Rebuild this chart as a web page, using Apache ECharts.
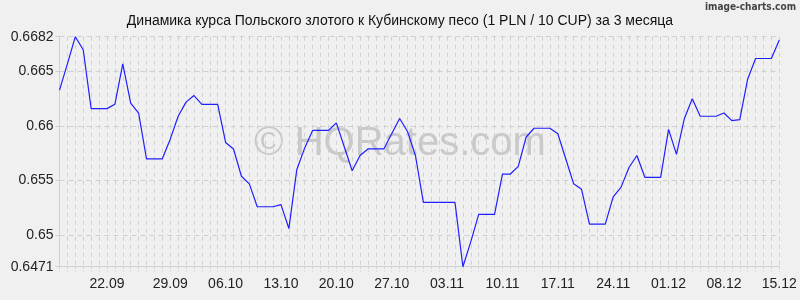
<!DOCTYPE html>
<html>
<head>
<meta charset="utf-8">
<script src="https://cdn.jsdelivr.net/npm/echarts@6/dist/echarts.min.js"></script>
<style>
html,body{margin:0;padding:0;background:#f0f0f0;}
#c{width:800px;height:300px;}
</style>
</head>
<body>
<div id="c"></div>
<script>
var titleText = 'Динамика курса Польского злотого к Кубинскому песо (1 PLN / 10 CUP) за 3 месяца';

var dates = [
 '15.09','16.09','17.09','18.09','19.09','20.09','21.09','22.09','23.09','24.09','25.09','26.09','27.09','28.09','29.09','30.09',
 '01.10','02.10','03.10','04.10','05.10','06.10','07.10','08.10','09.10','10.10','11.10','12.10','13.10','14.10','15.10','16.10',
 '17.10','18.10','19.10','20.10','21.10','22.10','23.10','24.10','25.10','26.10','27.10','28.10','29.10','30.10','31.10',
 '01.11','02.11','03.11','04.11','05.11','06.11','07.11','08.11','09.11','10.11','11.11','12.11','13.11','14.11','15.11','16.11',
 '17.11','18.11','19.11','20.11','21.11','22.11','23.11','24.11','25.11','26.11','27.11','28.11','29.11','30.11',
 '01.12','02.12','03.12','04.12','05.12','06.12','07.12','08.12','09.12','10.12','11.12','12.12','13.12','14.12','15.12'
];

// x tick labels as shown on the reference, one entry per category ('' = no label)
var xTickLabels = [
 '','','','','','','22.09','','','','','','','','29.09','',
 '','','','','','06.10','','','','','','','13.10','','','',
 '','','','20.10','','','','','','','27.10','','','','',
 '','','03.11','','','','','','','10.11','','','','','','',
 '17.11','','','','','','','24.11','','','','','','',
 '01.12','','','','','','','08.12','','','','','','','15.12'
];

var rates = [
 0.6633,0.6657,0.6682,0.6670,0.6616,0.6616,0.6616,0.6620,0.6657,0.6621,0.6612,0.6570,0.6570,0.6570,0.6588,0.6609,
 0.6622,0.6628,0.6620,0.6620,0.6620,0.6585,0.6579,0.6554,0.6547,0.6526,0.6526,0.6526,0.6528,0.6506,0.6560,0.6580,
 0.6596,0.6596,0.6596,0.6603,0.6581,0.6559,0.6573,0.6579,0.6579,0.6579,0.6593,0.6607,0.6595,0.6573,0.6530,
 0.6530,0.6530,0.6530,0.6530,0.6471,0.6494,0.6519,0.6519,0.6519,0.6556,0.6556,0.6563,0.6590,0.6598,0.6598,0.6598,
 0.6593,0.6570,0.6547,0.6542,0.6510,0.6510,0.6510,0.6535,0.6544,0.6562,0.6573,0.6553,0.6553,0.6553,
 0.6597,0.6574,0.6607,0.6625,0.6609,0.6609,0.6609,0.6612,0.6605,0.6606,0.6643,0.6662,0.6662,0.6662,0.6679
];

var yMin = 0.6471;
var yMax = 0.6682;
var yTicks = [0.6471, 0.65, 0.655, 0.66, 0.665, 0.6682];

var chart = echarts.init(document.getElementById('c'), null, {renderer: 'canvas'});
var gridColor = '#d0d0d0';
chart.setOption({
  backgroundColor: '#f0f0f0',
  animation: false,
  title: {
    text: titleText,
    left: 'center',
    top: 9,
    textStyle: {fontFamily: 'Liberation Sans', fontSize: 14, fontWeight: 'normal', color: '#111'}
  },
  graphic: [
    {
      type: 'text', right: 4, top: 2, z: 10,
      style: {text: 'image-charts.com', font: 'bold 10px "DejaVu Sans Condensed"', fill: '#444'}
    },
    {
      type: 'text', left: 'center', top: 124, z: 0, silent: true,
      style: {text: '© HQRates.com', font: '40px "Liberation Sans"', fill: '#c9c9c9'}
    }
  ],
  grid: {left: 59.5, right: 20.7, top: 36.7, bottom: 33.3, containLabel: false},
  xAxis: {
    type: 'category',
    data: dates,
    boundaryGap: false,
    axisLine: {show: true, lineStyle: {color: gridColor, width: 1}},
    axisTick: {show: true, interval: 0, length: 5, lineStyle: {color: gridColor, type: [2, 2]}},
    splitLine: {show: true, interval: 0, lineStyle: {color: gridColor, type: [4, 4], width: 1}},
    axisLabel: {
      interval: 0,
      margin: 10,
      fontFamily: 'Liberation Sans', fontSize: 14, color: '#222',
      formatter: function (v, i) { return xTickLabels[i] || ''; }
    }
  },
  yAxis: {
    type: 'value',
    min: yMin,
    max: yMax,
    axisLine: {show: true, lineStyle: {color: gridColor, width: 1}},
    axisTick: {show: true, length: 4, customValues: yTicks, lineStyle: {color: gridColor}},
    splitLine: {show: true, lineStyle: {color: gridColor, type: [5, 4], width: 1}},
    axisLabel: {
      customValues: yTicks,
      margin: 6,
      fontFamily: 'Liberation Sans', fontSize: 14, color: '#222',
      formatter: function (v) { return String(+v.toFixed(4)); }
    }
  },
  series: [{
    type: 'line',
    data: rates,
    symbol: 'none',
    z: 5,
    lineStyle: {color: '#1f1fff', width: 1.2}
  }]
});
</script>
</body>
</html>
